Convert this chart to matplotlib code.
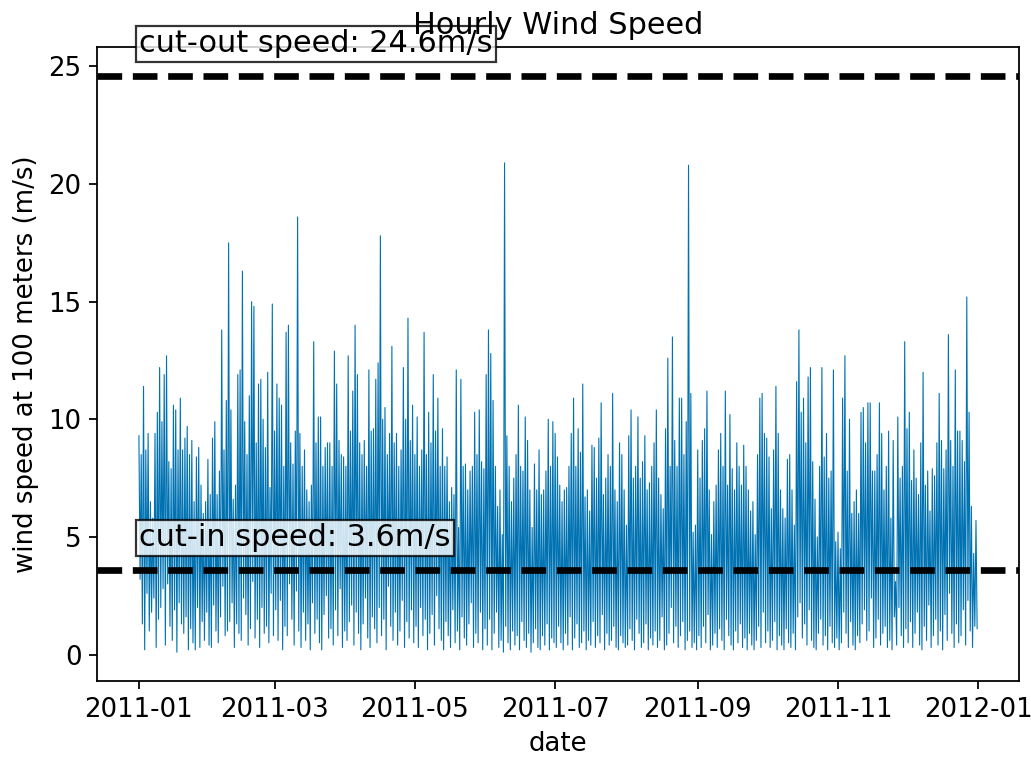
import numpy as np
import pandas as pd
import matplotlib
matplotlib.use("Agg")
import matplotlib.pyplot as plt

# Daily highs and lows of the hourly wind speed (m/s)
jan_hi = [9.3, 8.5, 11.4, 8.7, 9.4, 6.5, 5.8, 9.4, 10.3, 12.2, 9.9, 11.9, 12.7, 8.2, 7.9, 10.6,
          10.4, 8.7, 10.9, 8.7, 9.2, 9.7, 8.5, 9.1, 6.5, 8.4, 8.8, 7.2, 6.0, 6.5, 8.3]
feb_hi = [6.8, 9.2, 9.9, 6.8, 7.8, 13.8, 8.7, 10.8, 17.5, 10.4, 6.6, 7.2, 11.9, 12.1, 16.3, 9.9,
          8.5, 11.0, 15.0, 14.8, 9.0, 11.5, 11.7, 10.0, 8.8, 12.0, 7.1, 14.9]
mar_hi = [9.5, 11.5, 10.9, 10.6, 8.0, 13.7, 14.0, 9.0, 8.1, 9.5, 18.6, 9.4, 8.0, 8.7, 7.0, 6.5,
          7.2, 13.3, 9.0, 10.1, 10.1, 8.0, 8.8, 9.0, 9.0, 8.0, 12.9, 11.5, 9.1, 8.5, 8.4]
apr_hi = [8.0, 12.7, 9.5, 11.2, 14.0, 11.9, 9.0, 8.5, 9.1, 8.0, 12.1, 9.5, 9.6, 11.7, 12.4, 17.8,
          10.0, 10.5, 8.5, 9.4, 13.1, 9.0, 9.4, 8.0, 8.7, 12.2, 10.0, 14.3, 9.1, 10.6]
may_hi = [8.5, 10.1, 8.0, 8.7, 13.7, 8.5, 10.3, 9.0, 11.9, 9.5, 10.9, 8.0, 9.6, 8.0, 8.4, 6.5,
          7.1, 6.8, 12.1, 5.4, 11.7, 8.0, 8.1, 7.0, 7.8, 8.0, 10.3, 8.5, 10.4, 8.2, 7.9]
jun_hi = [11.9, 13.8, 12.8, 10.8, 8.0, 6.3, 7.0, 5.1, 20.9, 9.3, 8.0, 6.5, 7.5, 8.5, 10.6, 8.0,
          7.8, 10.1, 9.1, 7.0, 5.4, 8.1, 7.0, 8.7, 6.8, 7.0, 7.8, 10.0, 8.0, 9.9]
jul_hi = [9.4, 8.4, 7.2, 6.5, 7.0, 7.1, 8.0, 9.4, 10.9, 8.0, 9.6, 8.6, 11.5, 6.7, 7.0, 6.1,
          8.9, 8.8, 7.5, 9.2, 10.7, 6.8, 7.5, 8.5, 8.0, 11.1, 7.0, 6.5, 9.0, 8.5, 7.0]
aug_hi = [5.5, 9.3, 10.4, 7.5, 8.0, 10.1, 7.5, 8.2, 9.3, 7.0, 7.3, 8.0, 9.0, 10.4, 7.5, 6.8,
          6.2, 9.6, 12.6, 8.0, 13.5, 9.1, 8.0, 10.9, 10.9, 8.5, 9.9, 20.8, 11.1, 5.2, 5.5]
sep_hi = [8.7, 7.5, 9.1, 9.6, 11.2, 7.0, 5.1, 6.5, 7.2, 8.7, 9.4, 8.0, 11.2, 7.2, 10.2, 7.9,
          7.0, 9.0, 8.0, 7.2, 8.9, 8.0, 7.0, 6.1, 6.5, 5.1, 8.5, 10.9, 11.1, 9.4]
oct_hi = [9.2, 8.4, 6.2, 8.7, 11.4, 9.4, 7.0, 6.2, 5.8, 8.3, 8.5, 7.0, 5.5, 11.6, 13.8, 10.3,
          10.9, 9.0, 11.8, 12.2, 8.2, 6.6, 5.0, 8.0, 12.2, 8.4, 9.4, 7.5, 7.8, 12.1, 4.8]
nov_hi = [5.2, 4.5, 10.9, 12.7, 7.8, 10.0, 6.0, 6.5, 7.0, 6.0, 10.3, 10.5, 9.0, 10.7, 10.7, 7.8,
          7.8, 8.5, 10.7, 9.4, 7.0, 8.0, 9.5, 5.8, 9.1, 3.1, 10.1, 7.5, 8.0, 13.3]
dec_hi = [9.6, 10.3, 7.4, 8.7, 7.5, 6.8, 9.0, 12.0, 7.2, 7.8, 6.1, 7.9, 7.6, 9.0, 11.1, 9.1,
          7.9, 8.7, 13.6, 9.1, 8.0, 12.1, 9.5, 9.5, 9.1, 8.2, 15.2, 10.3, 6.3, 4.3, 5.7]

jan_lo = [3.2, 1.3, 0.2, 2.6, 1.0, 1.8, 2.4, 0.3, 1.5, 2.0, 2.8, 0.4, 3.0, 1.2, 0.6, 1.9,
          0.1, 2.2, 1.3, 0.9, 1.6, 0.2, 1.1, 0.5, 0.2, 2.0, 0.3, 1.4, 0.6, 1.8, 0.4]
feb_lo = [0.3, 2.1, 1.0, 0.5, 1.6, 2.9, 0.8, 1.0, 1.4, 2.2, 0.3, 1.3, 0.9, 0.6, 2.4, 1.7,
          0.4, 1.1, 3.1, 0.7, 1.5, 0.3, 2.0, 0.9, 1.2, 0.5, 2.6, 0.8]
mar_lo = [1.9, 0.6, 2.3, 0.2, 1.2, 0.8, 3.0, 1.5, 0.4, 2.7, 1.0, 0.3, 1.8, 0.6, 1.3, 0.2,
          2.2, 0.9, 1.5, 0.5, 0.2, 1.7, 2.5, 0.7, 1.1, 0.4, 1.9, 0.8, 2.8, 0.3, 1.0]
apr_lo = [0.6, 1.4, 2.1, 0.4, 1.8, 0.9, 0.2, 1.3, 2.4, 0.7, 0.3, 1.6, 1.1, 0.5, 2.0, 0.8,
          1.5, 0.2, 2.9, 1.2, 0.6, 1.8, 0.4, 1.0, 2.3, 0.3, 1.4, 0.7, 1.9, 0.5]
may_lo = [1.2, 0.3, 2.0, 0.8, 1.5, 0.2, 0.9, 1.7, 0.4, 2.5, 1.1, 0.6, 0.2, 1.4, 0.8, 0.3,
          1.9, 0.5, 1.0, 0.2, 1.6, 0.7, 0.4, 1.3, 2.2, 0.3, 0.9, 0.5, 1.8, 0.2, 1.1]
jun_lo = [0.4, 1.5, 0.2, 0.9, 1.8, 0.3, 0.6, 0.1, 1.2, 0.5, 0.2, 1.0, 0.4, 0.8, 0.2, 1.4,
          0.6, 0.3, 0.9, 0.1, 0.5, 1.1, 0.3, 0.2, 0.8, 0.4, 1.3, 0.2, 0.7, 0.5]
jul_lo = [0.3, 1.2, 0.5, 0.2, 0.9, 0.4, 1.6, 0.2, 0.7, 1.3, 0.3, 0.5, 1.0, 0.2, 0.6, 0.4,
          1.4, 0.3, 0.8, 0.5, 1.7, 0.2, 0.9, 0.4, 0.6, 1.2, 0.3, 0.2, 0.8, 0.5, 0.3]
aug_lo = [0.4, 1.1, 0.6, 0.2, 1.5, 0.9, 0.3, 0.5, 1.3, 0.2, 0.7, 0.4, 1.0, 0.3, 0.6, 1.6,
          0.2, 0.4, 0.9, 2.0, 0.5, 1.2, 0.3, 0.8, 1.4, 0.2, 0.6, 1.0, 0.3, 0.5, 0.2]
sep_lo = [0.8, 0.3, 1.2, 0.5, 1.7, 0.2, 0.4, 0.9, 0.3, 1.1, 0.6, 0.2, 1.5, 0.8, 0.4, 0.2,
          1.0, 0.5, 1.3, 0.3, 0.7, 0.2, 0.9, 0.4, 0.2, 0.6, 1.2, 0.3, 1.8, 0.5]
oct_lo = [1.0, 0.3, 0.6, 1.4, 0.2, 0.8, 0.4, 0.2, 1.1, 0.5, 0.3, 0.9, 0.2, 1.6, 2.2, 0.7,
          1.3, 0.4, 1.9, 0.6, 0.3, 0.2, 0.9, 1.5, 0.4, 0.8, 0.2, 1.2, 0.5, 0.3, 0.7]
nov_lo = [0.2, 0.5, 1.8, 0.9, 0.3, 1.4, 0.4, 0.2, 0.8, 0.5, 1.3, 1.9, 0.6, 1.0, 2.4, 0.3,
          0.7, 1.5, 0.4, 0.9, 1.2, 0.3, 0.6, 0.2, 1.6, 0.4, 2.0, 0.8, 0.3, 1.1]
dec_lo = [0.5, 1.4, 0.3, 0.9, 1.8, 0.4, 0.2, 1.2, 0.6, 2.1, 0.3, 0.8, 1.5, 0.4, 1.0, 0.2,
          1.7, 0.6, 2.6, 0.9, 0.3, 1.3, 0.5, 0.8, 1.9, 0.4, 2.3, 1.0, 0.3, 1.2, 1.1]

cut_in = 3.6
cut_out = 24.6

highs = sum([jan_hi, feb_hi, mar_hi, apr_hi, may_hi, jun_hi,
             jul_hi, aug_hi, sep_hi, oct_hi, nov_hi, dec_hi], [])
lows = sum([jan_lo, feb_lo, mar_lo, apr_lo, may_lo, jun_lo,
            jul_lo, aug_lo, sep_lo, oct_lo, nov_lo, dec_lo], [])

# alternate high / low every 12 hours
speed = np.column_stack([highs, lows]).ravel()
dates = pd.date_range("2011-01-01", periods=len(speed), freq="12h")

plt.rcParams["font.size"] = 11.7

fig = plt.figure(figsize=(1031 / 160, 757 / 160), dpi=160)
ax = fig.add_axes([0.0941, 0.1004, 0.8943, 0.8375])

ax.plot(dates, speed, color="#0072b2", linewidth=0.5)
ax.axhline(cut_out, color="black", linestyle="--", linewidth=3)
ax.axhline(cut_in, color="black", linestyle="--", linewidth=3)

box = dict(facecolor="white", alpha=0.8, pad=1.5)
ax.text(dates[0], cut_out + 1, f"cut-out speed: {cut_out}m/s", fontsize=13.7, bbox=box)
ax.text(dates[0], cut_in + 1, f"cut-in speed: {cut_in}m/s", fontsize=13.7, bbox=box)

ax.set_title("Hourly Wind Speed", fontsize=13.7)
ax.set_xlabel("date")
ax.set_ylabel("wind speed at 100 meters (m/s)")

fig.savefig("out.png", dpi=160)
